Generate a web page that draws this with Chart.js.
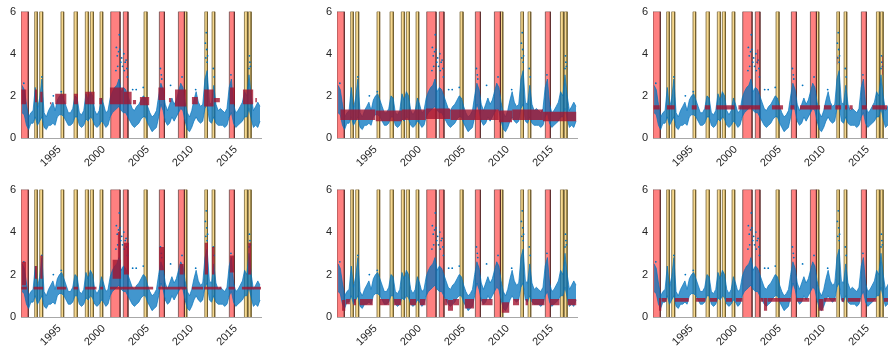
<!DOCTYPE html>
<html>
<head>
<meta charset="utf-8">
<script src="https://cdn.jsdelivr.net/npm/chart.js@4.4.1/dist/chart.umd.min.js"></script>
<style>
html, body { margin: 0; padding: 0; background: #fff; width: 888px; height: 359px; overflow: hidden; }
canvas { position: absolute; }
</style>
</head>
<body>
<script>
// sampling grid of the blue series (quarterly)
const gridStart = 1990.75;
const gridStep = 0.25;

// blue series: lower and upper edge of the point cloud, one value per quarter
const seriesLo = [
    1.2, 1.1, 0.6, 0.4, 0.7, 0.7, 1.0, 0.6, 0.8, 1.0,
    0.5, 0.4, 0.6, 0.6, 0.7, 0.6, 1.0, 1.1, 1.1, 1.0,
    0.8, 0.6, 0.6, 0.7, 1.0, 1.0, 0.6, 0.5, 0.6, 0.9,
    0.8, 1.0, 0.9, 0.6, 0.5, 0.6, 0.8, 0.7, 0.5, 0.6,
    1.0, 1.2, 1.3, 1.4, 1.5, 1.3, 1.2, 1.2, 1.0, 0.8,
    0.6, 0.5, 0.6, 0.7, 0.9, 1.0, 1.0, 0.7, 0.5, 0.3,
    0.4, 0.5, 1.0, 1.6, 1.3, 0.8, 0.6, 0.7, 1.0, 0.8,
    1.0, 1.2, 1.4, 1.3, 0.8, 0.4, 0.3, 0.5, 0.8, 1.0,
    0.8, 0.7, 0.8, 1.4, 1.6, 0.8, 0.7, 1.0, 0.7, 0.6,
    0.6, 0.6, 0.5, 0.6, 1.0, 1.2, 0.7, 0.5, 0.6, 0.7,
    0.8, 1.0, 1.0, 1.4, 0.9, 0.5, 0.6, 0.5, 0.8,
];
const seriesHi = [
    2.5, 2.3, 1.6, 1.0, 1.2, 1.3, 2.4, 1.4, 1.9, 2.8,
    1.2, 1.0, 1.3, 1.5, 1.7, 1.3, 1.8, 2.0, 2.1, 1.8,
    1.5, 1.2, 1.2, 1.4, 2.0, 1.9, 1.2, 1.1, 1.3, 2.1,
    1.8, 2.2, 2.0, 1.3, 1.1, 1.3, 1.9, 1.6, 1.2, 1.3,
    1.9, 2.2, 2.4, 2.5, 2.8, 2.2, 2.4, 2.3, 2.0, 1.7,
    1.4, 1.3, 1.5, 1.6, 1.8, 2.0, 1.9, 1.5, 1.2, 1.0,
    1.1, 1.3, 2.0, 2.6, 2.3, 1.6, 1.3, 1.6, 1.9, 1.6,
    1.8, 2.2, 2.6, 2.4, 1.7, 1.2, 1.0, 1.3, 1.8, 2.2,
    1.7, 1.5, 1.6, 2.8, 3.2, 1.7, 1.6, 2.5, 1.6, 1.3,
    1.4, 1.3, 1.2, 1.4, 2.4, 2.8, 1.6, 1.2, 1.3, 1.5,
    1.7, 2.2, 2.0, 3.0, 2.0, 1.3, 1.5, 1.7, 1.5,
];
// isolated high points of the blue series [year, value]
const spikes = [
    [1990.95, 2.6], [1993.0, 2.9], [1994.3, 2.0], [1995.2, 2.2], [2001.4, 3.2],
    [2001.45, 4.3], [2001.55, 3.9], [2001.6, 3.4], [2001.7, 4.1], [2001.78, 4.9],
    [2001.85, 4.2], [2001.95, 3.6], [2002.05, 3.8], [2002.15, 3.4], [2002.3, 4.0],
    [2002.35, 3.2], [2002.45, 3.6], [2002.55, 3.7], [2002.65, 3.3], [2002.7, 2.9],
    [2003.3, 2.3], [2003.7, 2.3], [2004.5, 2.4], [2006.45, 3.3], [2006.55, 3.0],
    [2006.6, 2.8], [2007.6, 2.5], [2008.9, 2.9], [2010.45, 2.3], [2011.55, 4.5],
    [2011.6, 3.8], [2011.65, 5.0], [2011.7, 4.2], [2011.75, 3.6], [2011.8, 3.9],
    [2012.45, 3.3], [2012.55, 2.9], [2014.45, 3.0], [2016.5, 3.3], [2016.55, 3.9],
    [2016.6, 3.6], [2016.65, 3.4],
];

// shaded periods [from, to]
const redBands = [
    [1990.63, 1991.46], [2000.81, 2001.87], [2002.24, 2002.77],
    [2006.33, 2006.90], [2008.49, 2009.17], [2014.27, 2014.84],
];
const yellowBands = [
    [1992.18, 1992.48], [1992.75, 1993.09], [1995.17, 1995.47], [1996.65, 1997.02],
    [1997.93, 1998.27], [1998.50, 1998.84], [1999.60, 1999.90], [2004.59, 2004.93],
    [2009.17, 2009.44], [2011.48, 2011.78], [2012.31, 2012.61], [2015.98, 2016.32],
    [2016.43, 2016.74],
];

// red points of each panel, as clumps [from, to, low, high]
const red1 = [
    [1990.65, 1991.25, 1.6, 2.3], [1992.2, 1992.45, 1.7, 2.3], [1992.8, 1993.1, 1.7, 2.2],
    [1993.9, 1994.1, 1.6, 1.7], [1994.5, 1995.8, 1.6, 2.1], [1996.6, 1997.1, 1.6, 2.1],
    [1997.9, 1999.0, 1.6, 2.2], [1999.5, 1999.85, 1.6, 1.9], [2000.7, 2002.3, 1.6, 2.4],
    [2002.3, 2003.2, 1.6, 2.2], [2003.3, 2003.7, 1.6, 1.8], [2004.1, 2005.2, 1.55, 1.95],
    [2006.2, 2007.0, 1.8, 2.4], [2007.4, 2007.7, 1.7, 1.9], [2008.1, 2009.4, 1.5, 2.3],
    [2010.0, 2010.7, 1.6, 1.95], [2011.4, 2012.5, 1.5, 2.3], [2012.5, 2013.2, 1.7, 1.9],
    [2014.3, 2014.9, 1.6, 2.4], [2015.8, 2017.0, 1.6, 2.3], [2017.2, 2017.4, 1.7, 1.9],
];
const red2 = [
    [1991.0, 1995.0, 0.85, 1.35], [1995.0, 1998.0, 0.8, 1.3], [1998.0, 2000.7, 0.85, 1.35],
    [2000.7, 2003.5, 0.9, 1.4], [2003.5, 2009.0, 0.85, 1.35], [2009.0, 2010.5, 0.75, 1.3],
    [2010.5, 2014.0, 0.85, 1.35], [2014.0, 2017.8, 0.8, 1.25],
];
const red3 = [
    [1990.67, 1991.4, 1.35, 1.55], [1992.2, 1993.1, 1.35, 1.55], [1995.0, 1995.6, 1.35, 1.55],
    [1996.5, 1997.1, 1.35, 1.55], [1997.8, 1999.9, 1.35, 1.55], [2000.3, 2002.8, 1.35, 1.55],
    [2004.1, 2005.4, 1.35, 1.55], [2006.2, 2006.7, 1.35, 1.55], [2007.3, 2009.6, 1.35, 1.55],
    [2010.0, 2010.9, 1.35, 1.55], [2011.3, 2012.0, 1.35, 1.55], [2012.4, 2012.7, 1.35, 1.55],
    [2012.9, 2013.3, 1.35, 1.55], [2014.3, 2014.9, 1.35, 1.55], [2015.5, 2017.2, 1.35, 1.55],
    [2002.45, 2002.6, 3.5, 4.2], [2011.55, 2011.65, 3.5, 3.9], [2016.6, 2016.7, 3.0, 3.9],
];
const red4 = [
    [1990.65, 1991.3, 1.3, 1.42], [1992.03, 1993.16, 1.3, 1.42], [1994.68, 1995.8, 1.3, 1.42],
    [1996.57, 1997.14, 1.3, 1.42], [1997.9, 1999.22, 1.3, 1.42], [1999.6, 1999.97, 1.3, 1.42],
    [2000.73, 2005.65, 1.3, 1.42], [2006.2, 2009.44, 1.3, 1.42], [2010.0, 2011.3, 1.3, 1.42],
    [2011.4, 2013.4, 1.3, 1.42], [2014.16, 2014.9, 1.3, 1.42], [2015.68, 2017.86, 1.3, 1.42],
    [1990.7, 1991.2, 1.5, 2.6], [1992.2, 1992.45, 1.8, 2.4], [1992.8, 1993.1, 1.8, 2.9],
    [2001.0, 2002.0, 1.8, 2.7], [2001.6, 2001.9, 2.7, 4.0], [2002.3, 2002.9, 2.0, 3.5],
    [2006.3, 2006.9, 2.2, 3.3], [2008.6, 2009.1, 2.0, 2.5], [2011.45, 2011.85, 2.0, 3.5],
    [2012.3, 2012.6, 2.0, 3.3], [2014.3, 2014.8, 2.1, 2.9], [2016.4, 2016.75, 2.0, 3.5],
];
const red5 = [
    [1991.2, 1991.6, 0.3, 0.8], [1991.6, 1992.1, 0.6, 0.85], [1992.5, 1992.8, 0.55, 0.85],
    [1993.2, 1994.7, 0.55, 0.85], [1995.5, 1996.6, 0.55, 0.85], [1997.1, 1997.9, 0.55, 0.85],
    [1998.9, 1999.6, 0.55, 0.85], [2000.0, 2000.7, 0.55, 0.85], [2002.8, 2003.2, 0.55, 0.85],
    [2003.2, 2003.8, 0.3, 0.8], [2003.8, 2004.5, 0.55, 0.85], [2005.1, 2006.2, 0.4, 0.85],
    [2007.0, 2008.3, 0.55, 0.85], [2009.3, 2010.2, 0.2, 0.7], [2010.6, 2011.3, 0.55, 0.85],
    [2012.0, 2012.3, 0.55, 0.85], [2012.7, 2014.2, 0.55, 0.85], [2014.8, 2015.9, 0.55, 0.85],
    [2016.8, 2017.8, 0.55, 0.85],
];
const red6 = [
    [1991.3, 1991.6, 0.3, 0.9], [1991.6, 1992.2, 0.72, 0.9], [1993.1, 1994.7, 0.72, 0.9],
    [1995.5, 1996.6, 0.72, 0.9], [1997.1, 1997.9, 0.72, 0.9], [1998.9, 1999.6, 0.72, 0.9],
    [2000.0, 2000.8, 0.72, 0.9], [2002.8, 2003.2, 0.72, 0.9], [2003.2, 2003.6, 0.3, 0.9],
    [2003.6, 2006.3, 0.72, 0.9], [2006.9, 2008.4, 0.72, 0.9], [2009.4, 2010.0, 0.3, 0.85],
    [2010.0, 2011.4, 0.72, 0.9], [2012.0, 2012.3, 0.72, 0.9], [2012.7, 2014.2, 0.72, 0.9],
    [2014.9, 2016.0, 0.72, 0.9], [2016.8, 2017.86, 0.72, 0.9],
];
const panelReds = [red1, red2, red3, red4, red5, red6];

const xTicks = [1995, 2000, 2005, 2010, 2015];
const yTicks = [0, 2, 4, 6];
const xMin = 1990.63, xMax = 2017.86;

const BLUE = "#0072BD";
const RED = "#A2142F";

function bandSet(a, b, fill, edge) {
    return {
        type: "line", order: 3,
        data: [{x: a, y: 0}, {x: a, y: 6}, {x: b, y: 6}, {x: b, y: 0}],
        borderColor: edge, borderWidth: 1, backgroundColor: fill,
        fill: "origin", pointRadius: 0, tension: 0,
    };
}

function buildDatasets(reds) {
    const sets = [];
    redBands.forEach(([a, b]) => sets.push(bandSet(a, b, "#FF8080", "rgba(90,40,40,0.7)")));
    yellowBands.forEach(([a, b]) => sets.push(bandSet(a, b, "#F6D88E", "rgba(110,90,40,0.75)")));
    const xs = seriesLo.map((_, i) => gridStart + i * gridStep);
    sets.push({
        type: "line", order: 2,
        data: xs.map((x, i) => ({x, y: seriesLo[i]})),
        borderColor: "rgba(0,114,189,0.85)", borderWidth: 0.8, pointRadius: 0, fill: false,
    });
    sets.push({
        type: "line", order: 2,
        data: xs.map((x, i) => ({x, y: seriesHi[i]})),
        borderColor: "rgba(0,114,189,0.85)", borderWidth: 0.8, pointRadius: 0,
        backgroundColor: "rgba(0,114,189,0.74)", fill: "-1",
    });
    sets.push({
        type: "scatter", order: 2,
        data: spikes.map(([x, y]) => ({x, y})),
        backgroundColor: BLUE, borderWidth: 0, pointRadius: 0.9,
    });
    reds.forEach(([a, b, lo, hi]) => sets.push({
        type: "line", order: 1,
        data: [{x: a, y: hi}, {x: b, y: hi}],
        borderWidth: 0, borderColor: RED, pointRadius: 0,
        backgroundColor: "rgba(162,20,47,0.8)", fill: {value: lo},
    }));
    return sets;
}

const font = {family: "'Liberation Sans', Arial, sans-serif", size: 11};
const colLeft = [21, 337, 653];
const rowTop = [11, 189];
const rowH = [127, 128];

panelReds.forEach((reds, p) => {
    const col = p % 3, row = Math.floor(p / 3);
    const cv = document.createElement("canvas");
    cv.width = 275;
    cv.height = 11 + rowH[row] + 42;
    cv.style.left = (colLeft[col] - 21) + "px";
    cv.style.top = (rowTop[row] - 11) + "px";
    document.body.appendChild(cv);

    new Chart(cv, {
        type: "line",
        data: {datasets: buildDatasets(reds)},
        options: {
            responsive: false,
            animation: false,
            layout: {padding: {top: 11, right: 14, left: 0, bottom: 0}},
            plugins: {legend: {display: false}, tooltip: {enabled: false}},
            scales: {
                x: {
                    type: "linear", min: xMin, max: xMax,
                    grid: {display: false, drawTicks: false},
                    border: {display: true, color: "#a8a8a8", width: 1},
                    ticks: {
                        minRotation: 45, maxRotation: 45, padding: 5,
                        font: font, color: "#262626",
                        callback: (v) => String(v),
                    },
                    afterBuildTicks: (s) => { s.ticks = xTicks.map((v) => ({value: v})); },
                    afterFit: (s) => { s.height = 42; },
                },
                y: {
                    min: 0, max: 6,
                    grid: {display: false, drawTicks: false},
                    border: {display: false},
                    ticks: {padding: 5, font: font, color: "#262626"},
                    afterBuildTicks: (s) => { s.ticks = yTicks.map((v) => ({value: v})); },
                    afterFit: (s) => { s.width = 21; },
                },
            },
        },
    });
});
</script>
</body>
</html>
